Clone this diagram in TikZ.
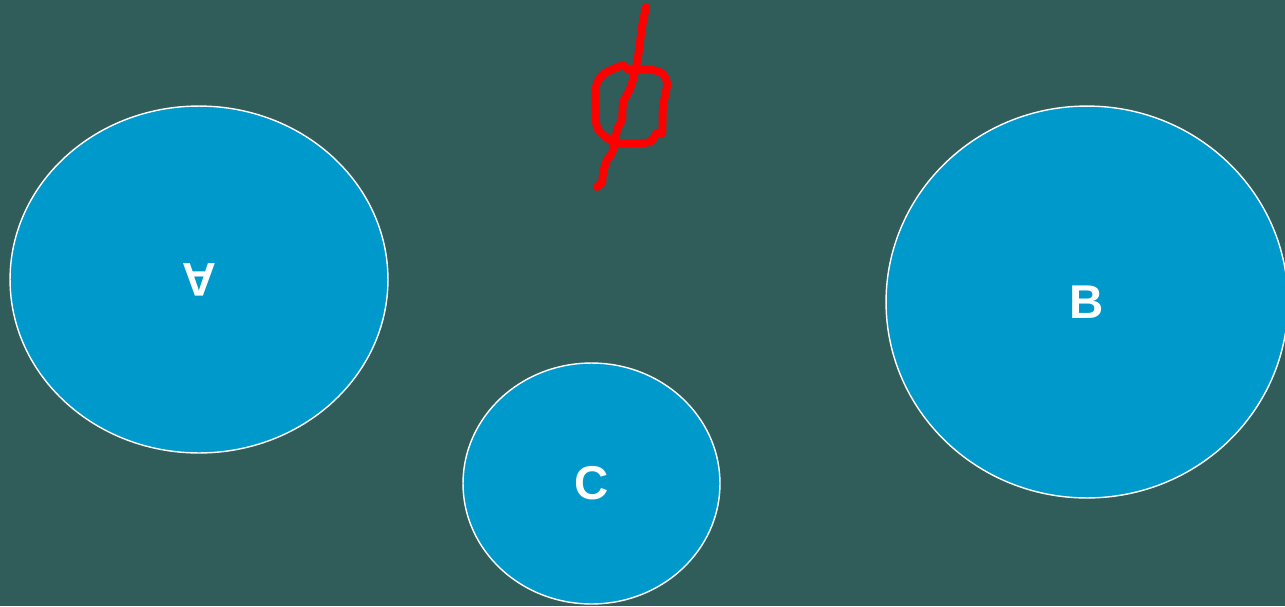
\documentclass[tikz,border=0pt]{standalone}
\usepackage{fontspec}
\setmainfont{Liberation Sans}
\usetikzlibrary{shapes.geometric}
\definecolor{zemin}{HTML}{305C5A}
\definecolor{kume}{HTML}{0099CC}
\definecolor{kirmizi}{HTML}{FF0000}

\begin{document}
\begin{tikzpicture}[x=0.02cm,y=-0.02cm,
  kumeStil/.style={ellipse,draw=white,line width=0.8pt,fill=kume,inner sep=0pt,
    text=white,font=\fontsize{27}{32}\selectfont\bfseries}]
\fill[zemin] (0,0) rectangle (1285,606);
\useasboundingbox (0,0) rectangle (1285,606);
\node[kumeStil,minimum width=7.56cm,minimum height=6.94cm,rotate=180] (A) at (199,279.5) {A};
\node[kumeStil,minimum width=8.04cm,minimum height=7.84cm] (B) at (1087,302) {B};
\node[kumeStil,minimum width=5.14cm,minimum height=4.82cm] (C) at (591.5,483.5) {C};
% bos kume isareti
\draw[kirmizi,line width=4.5pt,line cap=round,line join=round]
  plot[smooth,tension=0.5] coordinates {(646,7) (642,27) (639,50) (636,67) (632,83) (628,93)
  (623,103) (622,120) (618,127) (615,140) (612,153) (607,160) (603,173) (602,182) (597,187)};
\draw[kirmizi,line width=4.5pt,line cap=round,line join=round]
  plot[smooth,tension=0.5] coordinates {(623,65) (605,73) (597,83) (595,100) (597,127) (607,138)
  (618,143) (633,143) (650,142) (657,133) (662,133) (663,107) (667,83) (660,72) (642,69) (630,70) (623,65)};
\end{tikzpicture}
\end{document}
